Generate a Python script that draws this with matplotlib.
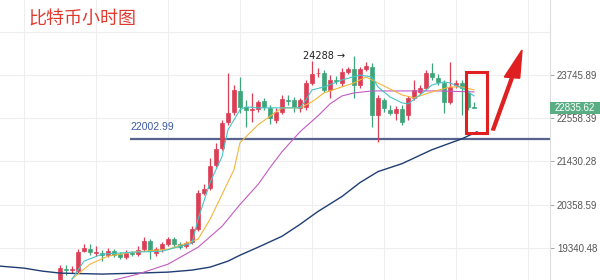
import matplotlib
matplotlib.use("Agg")
import matplotlib.pyplot as plt
from matplotlib.patches import Rectangle, FancyArrow
from matplotlib.ticker import NullLocator, FixedLocator, FixedFormatter

# hourly candles (open, high, low, close)
opens = [18553, 18860, 18840, 18818, 19266, 19312, 19240, 19221, 19176, 19266,
         19199, 19131, 19221, 19199, 19312, 19495, 19221, 19312, 19426, 19541,
         19426, 19380, 19472, 19773, 20656, 20778, 21350, 21784, 22463, 22730,
         23301, 22865, 22770, 22811, 23028, 22838, 22516, 22730, 23055, 23055,
         22838, 22865, 23523, 23790, 23802, 23329, 23606, 23523, 23831, 23915,
         23467, 23915, 23972, 22650, 23055, 22784, 22704, 22811, 22650, 23109,
         23274, 23384, 23802, 23662, 23523, 23001, 23467, 23523, 23246, 22865]
highs = [18951, 18951, 18930, 19312, 19426, 19426, 19380, 19289, 19334, 19312,
         19244, 19289, 19266, 19380, 19587, 19541, 19357, 19472, 19587, 19587,
         19472, 19495, 19843, 20729, 20876, 21528, 21913, 22516, 23802, 23467,
         23690, 23055, 23246, 23055, 23109, 22919, 22838, 23191, 23191, 23136,
         23109, 23606, 24143, 23943, 23887, 23746, 23718, 23943, 23972, 24288,
         23972, 24114, 24086, 23191, 23109, 22919, 22892, 22919, 23164, 23606,
         23467, 23887, 24086, 23774, 23606, 24114, 23606, 23606, 23329, 23001]
lows = [18553, 18729, 18770, 18773, 19244, 19176, 19154, 19041, 19131, 19131,
        19086, 19086, 19154, 19154, 19266, 19086, 19154, 19244, 19380, 19357,
        19312, 19334, 19426, 19727, 20607, 20729, 21300, 21732, 22383, 22650,
        22704, 22330, 22463, 22730, 22784, 22410, 22436, 22677, 22919, 22730,
        22730, 22784, 23467, 23690, 23274, 23109, 23495, 23440, 23774, 23109,
        23384, 23859, 22330, 21938, 22730, 22650, 22516, 22383, 22516, 23055,
        23219, 23329, 23606, 23467, 22704, 22946, 23384, 22650, 22784, 22836]
closes = [18884, 18845, 18855, 19244, 19334, 19244, 19250, 19176, 19266, 19176,
          19131, 19221, 19199, 19289, 19495, 19266, 19312, 19426, 19541, 19426,
          19357, 19449, 19773, 20656, 20754, 21325, 21758, 22436, 22704, 23329,
          22865, 22784, 22795, 23001, 22865, 22570, 22730, 23082, 23028, 22865,
          23055, 23523, 23774, 23810, 23329, 23606, 23580, 23831, 23915, 23467,
          23915, 24000, 22650, 23109, 22838, 22704, 22811, 22463, 23109, 23329,
          23384, 23802, 23690, 23551, 23001, 23412, 23523, 23384, 22865, 22836]

# moving averages (candle index, price)
ma5_x = [2, 4, 7, 12, 17, 22, 23, 25, 27, 28, 30, 31, 33, 40, 41, 42, 44, 47,
         50, 52, 53, 55, 57, 58, 60, 62, 64, 65, 67, 69]
ma5_y = [18641, 19041, 19199, 19244, 19266, 19449, 20008, 20901, 21553, 22251,
         22784, 22865, 22838, 22838, 23055, 23329, 23412, 23606, 23746, 23690,
         23412, 23136, 22974, 22946, 23191, 23467, 23551, 23523, 23384, 23164]
ma10_x = [2, 5, 8, 12, 18, 23, 25, 29, 30, 33, 37, 40, 42, 44, 47, 49, 51, 53,
          57, 59, 62, 65, 67, 69]
ma10_y = [18641, 18973, 19154, 19244, 19312, 19541, 20008, 21225, 21913, 22383,
          22838, 22838, 23001, 23246, 23412, 23523, 23690, 23523, 23191, 23109,
          23274, 23412, 23412, 23329]
ma30_x = [9, 13, 18, 23, 27, 30, 33, 35, 37, 40, 43, 45, 47, 49, 52, 58, 63, 69]
ma30_y = [18619, 18751, 18973, 19357, 19843, 20365, 20852, 21275, 21681, 22199,
          22623, 22946, 23163, 23246, 23301, 23301, 23301, 23274]
ma120_x = [-10, -6, -3, 0, 7, 13, 18, 22, 25, 28, 30, 33, 37, 40, 43, 47, 50,
           53, 57, 62, 67, 69.5]
ma120_y = [18929, 18884, 18818, 18773, 18751, 18773, 18795, 18840, 18906, 19041,
           19176, 19357, 19611, 19890, 20197, 20559, 20901, 21175, 21375, 21732,
           22016, 22199]

support = 22002.99
last_price = 22835.62
high_label = 24288
ticks = [19340.48, 20358.59, 21430.28, 22558.39, 23745.89]
tick_labels = ["19340.48", "20358.59", "21430.28", "22558.39", "23745.89"]

up_color = "#dc3f55"
down_color = "#3ea57a"

fig = plt.figure(figsize=(6, 2.8), dpi=100)
ax = fig.add_axes([0, 0, 550 / 600, 1])
ax.set_yscale("log")
ax.set_xlim(-10, 81.67)
ax.set_ylim(18620, 25955)

# grid
for g in range(-6, 82, 12):
    ax.axvline(g, color="#eeeeee", lw=0.8, zorder=0)
for t in ticks + [ticks[-1] * 1.05264]:
    ax.axhline(t, color="#eeeeee", lw=0.8, zorder=0)

# candles
for i in range(len(opens)):
    o, h, l, c = opens[i], highs[i], lows[i], closes[i]
    col = up_color if c >= o else down_color
    ax.vlines(i, l, h, color=col, lw=0.9, zorder=3)
    lo, hi = min(o, c), max(o, c)
    if hi - lo < 12:
        lo, hi = lo - 6, hi + 6
    ax.bar(i, hi - lo, bottom=lo, width=0.7, color=col, edgecolor=col,
           lw=0.5, zorder=4)

# moving averages
ax.plot(ma120_x, ma120_y, color="#1f3d72", lw=1.0, zorder=5)
ax.plot(ma30_x, ma30_y, color="#c25bc4", lw=0.8, zorder=5)
ax.plot(ma10_x, ma10_y, color="#f2b63c", lw=0.8, zorder=5)
ax.plot(ma5_x, ma5_y, color="#45c4c8", lw=0.8, zorder=5)

# support line
ax.hlines(support, 11.6, 81.67, color="#55638e", lw=1.6, zorder=2)
ax.text(11.8, 22330, f"{support:.2f}", color="#3d5aa6", fontsize=7.5,
        family="Liberation Sans", va="center", ha="left")

ax.text(47.6, high_label, f"{high_label} \u2192", color="#222222", fontsize=7,
        family="DejaVu Sans", va="center", ha="right")

# y axis on the right
ax.yaxis.tick_right()
ax.yaxis.set_major_locator(FixedLocator(ticks))
ax.yaxis.set_major_formatter(FixedFormatter(tick_labels))
ax.yaxis.set_minor_locator(NullLocator())
ax.tick_params(axis="y", length=3, width=0.6, color="#999999", pad=2,
               labelsize=7, labelcolor="#555555")
for lab in ax.get_yticklabels():
    lab.set_family("Liberation Sans")
ax.set_xticks([])
for s in ["top", "left", "bottom"]:
    ax.spines[s].set_visible(False)
ax.spines["right"].set_color("#dddddd")
ax.spines["right"].set_linewidth(0.8)

# last price tag
ax.add_patch(Rectangle((1.0, 22660), 50 / 550, 23010 - 22660,
                       transform=ax.get_yaxis_transform(), clip_on=False,
                       fc="#5aae84", ec="none", zorder=7))
ax.annotate(f"{last_price:.2f}", xy=(1.0, last_price),
            xycoords=("axes fraction", "data"), xytext=(5, 0),
            textcoords="offset pixels", color="white", fontsize=7,
            family="Liberation Sans", va="center", ha="left", zorder=8)

# highlight box and arrow
ax.add_patch(Rectangle((67.6, 22173), 3.6, 23831 - 22173, fill=False,
                       ec="#e02020", lw=2.2, zorder=6))
fig.patches.append(FancyArrow(493 / 600, 1 - 130 / 280, 29 / 600, 80 / 280,
                              width=0.005, head_width=0.026, head_length=0.1,
                              length_includes_head=True, color="#e02020",
                              transform=fig.transFigure, figure=fig))

fig.text(28 / 600, 1 - 20 / 280, "比特币小时图", color="#e03a2e", fontsize=13,
         family=["Noto Sans CJK SC", "DejaVu Sans"], va="center", ha="left")

fig.savefig("out.png", dpi=100)
